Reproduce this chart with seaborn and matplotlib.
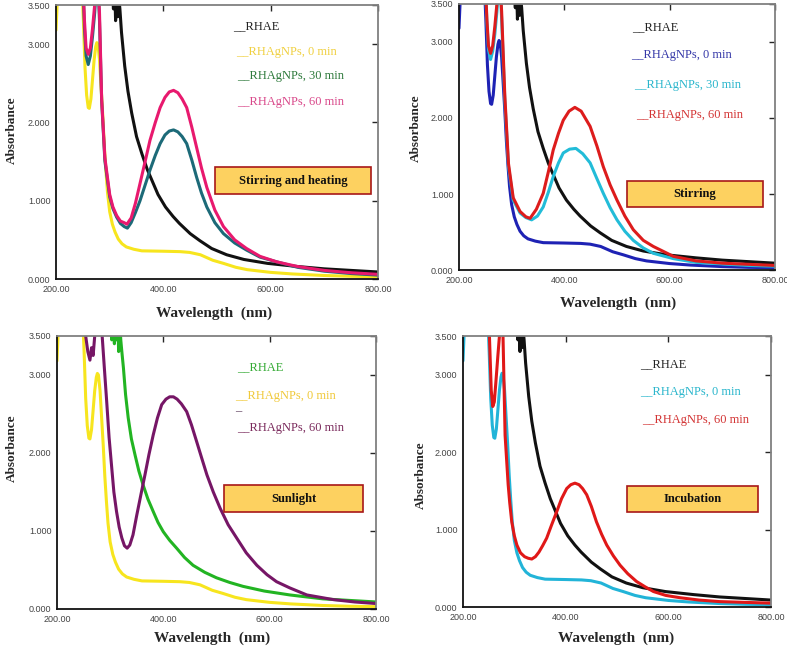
import matplotlib
matplotlib.use("Agg")
import matplotlib.pyplot as plt
from matplotlib.patches import Rectangle
import seaborn as sns

# ---- data (wavelength nm, absorbance) ----
# values above 3.5 run off the top of the plot in the original
wl_rhae = [304, 307, 309, 311, 313, 315, 317, 319, 322, 328, 334, 341, 350, 360, 370, 380, 390,
           404, 418, 430, 450, 468, 490, 518, 550, 594, 650, 700, 750, 800]
abs_rhae = [3.8, 3.45, 3.8, 3.3, 3.7, 3.35, 3.6, 3.45, 3.15, 2.72, 2.4, 2.12, 1.82, 1.6, 1.4, 1.24, 1.08,
            0.92, 0.8, 0.71, 0.58, 0.49, 0.39, 0.31, 0.25, 0.2, 0.16, 0.13, 0.11, 0.09]

wl_0min = [200, 202, 204, 248, 251, 254, 257, 260, 262, 265, 268, 271, 274, 276, 278, 281, 284, 287,
           290, 293, 296, 300, 305, 310, 316, 323, 331, 345, 360, 400, 431, 449, 469, 492, 512, 535,
           556, 600, 640, 700, 750, 800]
abs_0min = [3.18, 3.5, 3.8, 3.8, 3.3, 2.7, 2.35, 2.19, 2.18, 2.3, 2.55, 2.8, 2.97, 3.02, 3.0, 2.8, 2.45, 2.1,
            1.7, 1.38, 1.1, 0.86, 0.7, 0.6, 0.51, 0.45, 0.41, 0.38, 0.36, 0.355, 0.35, 0.34, 0.31, 0.24, 0.2, 0.15,
            0.12, 0.085, 0.065, 0.045, 0.035, 0.03]

# stirring and heating
wl_sh30 = [250, 253, 256, 260, 264, 268, 272, 275, 278, 281, 285, 291, 300, 306, 313, 320, 327, 333,
           340, 348, 356.5, 366, 375, 385, 394, 403, 411, 419, 427, 435, 443.5, 453, 462, 471, 481, 496,
           512, 533, 555, 580, 611, 650, 700, 750, 800]
abs_sh30 = [3.8, 3.2, 2.85, 2.74, 2.85, 3.1, 3.4, 3.7, 3.8, 3.3, 2.28, 1.51, 1.05, 0.9, 0.79, 0.71, 0.67, 0.65,
            0.72, 0.85, 1.0, 1.2, 1.39, 1.58, 1.73, 1.84, 1.89, 1.905, 1.88, 1.82, 1.73, 1.52, 1.30, 1.1, 0.92, 0.72,
            0.58, 0.46, 0.37, 0.28, 0.22, 0.15, 0.1, 0.07, 0.05]
wl_sh60 = [250, 253, 256, 260, 264, 268, 272, 275, 278, 281, 285, 291, 300, 306, 313, 320, 327, 332,
           340, 348, 356.5, 366, 375, 385, 394, 403, 411, 419, 427, 435, 443.5, 453, 462, 471, 481, 496,
           512, 533, 555, 580, 611, 650, 700, 750, 800]
abs_sh60 = [3.8, 3.3, 2.95, 2.87, 2.95, 3.2, 3.5, 3.8, 3.8, 3.4, 2.3, 1.55, 1.08, 0.92, 0.81, 0.74, 0.72, 0.70,
            0.78, 0.97, 1.22, 1.5, 1.77, 2.0, 2.19, 2.32, 2.39, 2.41, 2.38, 2.3, 2.19, 1.94, 1.68, 1.42, 1.17, 0.88,
            0.67, 0.5, 0.39, 0.29, 0.22, 0.16, 0.11, 0.08, 0.06]

# stirring
wl_st30 = [250, 253, 256, 260, 264, 268, 272, 275, 278, 281, 287, 294, 303, 316, 327, 338, 349, 360,
           370, 379, 389, 398, 410, 422, 435, 449, 462, 474, 487, 500, 515, 531, 550, 569, 607, 650, 700,
           750, 800]
abs_st30 = [3.8, 3.25, 2.9, 2.77, 2.88, 3.1, 3.4, 3.7, 3.8, 3.3, 2.24, 1.36, 0.92, 0.75, 0.69, 0.66, 0.71, 0.83,
            1.03, 1.23, 1.41, 1.54, 1.59, 1.6, 1.53, 1.41, 1.2, 1.01, 0.82, 0.66, 0.51, 0.39, 0.29, 0.22, 0.15, 0.1, 0.08,
            0.06, 0.05]
wl_st60 = [250, 253, 256, 260, 264, 268, 272, 275, 278, 281, 287, 294, 303, 316, 327, 335, 347, 360,
           370, 379, 389, 398, 409, 420, 432, 449, 462, 474, 487, 500, 515, 531, 550, 569, 607, 650, 700,
           750, 800]
abs_st60 = [3.8, 3.3, 2.95, 2.85, 2.95, 3.2, 3.5, 3.8, 3.8, 3.4, 2.3, 1.4, 0.95, 0.77, 0.70, 0.68, 0.8, 1.01,
            1.3, 1.58, 1.8, 1.97, 2.09, 2.14, 2.09, 1.89, 1.63, 1.36, 1.12, 0.92, 0.71, 0.53, 0.39, 0.31, 0.18, 0.12, 0.09,
            0.075, 0.06]

# sunlight
wl_sun_rhae = [300, 303, 305, 308, 310, 312, 314, 316, 318, 320, 322, 325, 329, 334, 340, 347, 354,
               362, 371, 381, 390, 400, 412, 425, 440, 456, 478, 500, 525, 550, 590, 638, 700, 750, 800]
abs_sun_rhae = [3.8, 3.45, 3.8, 3.4, 3.8, 3.45, 3.8, 3.3, 3.7, 3.45, 3.3, 3.09, 2.75, 2.45, 2.18, 1.97, 1.77,
                1.59, 1.41, 1.25, 1.11, 0.99, 0.88, 0.78, 0.66, 0.56, 0.47, 0.40, 0.34, 0.29, 0.23, 0.18, 0.13, 0.11,
                0.09]
wl_sun60 = [250, 254, 258, 262, 265, 268, 271, 274, 280, 284, 289, 293.5, 298, 303, 307, 312, 317, 322,
            327, 332, 337, 343, 350, 358, 365.5, 373, 381, 389, 397, 405, 412, 419, 426, 434, 444, 453, 463,
            472, 482, 494, 507, 522, 538, 556, 576, 595, 613, 638, 670, 720, 760, 800]
abs_sun60 = [3.8, 3.5, 3.3, 3.19, 3.35, 3.25, 3.5, 3.8, 3.8, 3.6, 3.1, 2.66, 2.2, 1.81, 1.5, 1.25, 1.05, 0.91,
             0.81, 0.78, 0.82, 0.95, 1.2, 1.47, 1.72, 1.98, 2.23, 2.45, 2.62, 2.69, 2.72, 2.72, 2.69, 2.63, 2.53, 2.36,
             2.14, 1.94, 1.72, 1.5, 1.29, 1.08, 0.91, 0.72, 0.56, 0.44, 0.35, 0.27, 0.18, 0.12, 0.09, 0.07]

# incubation
wl_inc60 = [250, 253, 255, 258, 261, 264, 268, 271, 274, 277, 280, 282, 285, 288, 291, 295, 300, 305,
            312, 320, 327, 334, 341, 348, 355, 363, 372, 382.5, 392, 402, 410, 418, 426, 433, 441, 450,
            460, 470, 480, 493, 506, 521, 538, 555, 571, 595, 623, 660, 700, 750, 800]
abs_inc60 = [3.8, 3.2, 2.8, 2.59, 2.65, 2.9, 3.25, 3.5, 3.8, 3.8, 2.85, 2.22, 1.9, 1.58, 1.35, 1.1, 0.92, 0.8,
             0.7, 0.65, 0.63, 0.62, 0.65, 0.71, 0.79, 0.89, 1.05, 1.23, 1.4, 1.53, 1.58, 1.6, 1.58, 1.53, 1.45, 1.3,
             1.1, 0.94, 0.8, 0.66, 0.54, 0.43, 0.33, 0.26, 0.2, 0.15, 0.12, 0.09, 0.07, 0.06, 0.05]

x_ticks = [200, 400, 600, 800]
y_ticks = [0.0, 1.0, 2.0, 3.0, 3.5]

sns.set_style("white")
plt.rcParams["font.family"] = ["Liberation Serif", "DejaVu Serif"]

fig = plt.figure(figsize=(7.87, 6.53), dpi=100)

# axes rectangles (fractions of the figure)
rects = [
    [0.0712, 0.5727, 0.4091, 0.4196],
    [0.5832, 0.5865, 0.4015, 0.4074],
    [0.0724, 0.0674, 0.4053, 0.4181],
    [0.5883, 0.0704, 0.3914, 0.4150],
]

panels = [
    {
        "series": [(wl_rhae, abs_rhae, "#111111"),
                   (wl_0min, abs_0min, "#F7E51E"),
                   (wl_sh30, abs_sh30, "#1C6A78"),
                   (wl_sh60, abs_sh60, "#E8196E")],
        "labels": [("__RHAE", "#222222", 0.550, 0.923),
                   ("__RHAgNPs, 0 min", "#F0D040", 0.559, 0.828),
                   ("__RHAgNPs, 30 min", "#2E7A3C", 0.562, 0.741),
                   ("__RHAgNPs, 60 min", "#D9488A", 0.563, 0.646)],
        "box": ("Stirring and heating", 0.494, 0.310, 0.484, 0.099),
        "ylab": (-0.118, 0.544), "xlab": (0.49, -0.102),
    },
    {
        "series": [(wl_rhae, abs_rhae, "#111111"),
                   (wl_0min, abs_0min, "#1E22B4"),
                   (wl_st30, abs_st30, "#22BCD8"),
                   (wl_st60, abs_st60, "#DD1C1C")],
        "labels": [("__RHAE", "#222222", 0.547, 0.913),
                   ("__RHAgNPs, 0 min", "#3538A8", 0.545, 0.808),
                   ("__RHAgNPs, 30 min", "#2AB6CC", 0.554, 0.695),
                   ("__RHAgNPs, 60 min", "#D33434", 0.560, 0.583)],
        "box": ("Stirring", 0.532, 0.237, 0.430, 0.098),
        "ylab": (-0.117, 0.534), "xlab": (0.503, -0.098),
    },
    {
        "series": [(wl_sun_rhae, abs_sun_rhae, "#22B422"),
                   (wl_0min, abs_0min, "#F7E51E"),
                   (wl_sun60, abs_sun60, "#761666")],
        "labels": [("__RHAE", "#33AA33", 0.564, 0.886),
                   ("__RHAgNPs, 0 min", "#F0C93A", 0.558, 0.780),
                   ("–", "#5A3A5A", 0.558, 0.725),
                   ("__RHAgNPs, 60 min", "#7A2A5C", 0.564, 0.663)],
        "box": ("Sunlight", 0.524, 0.355, 0.435, 0.099),
        "ylab": (-0.122, 0.59), "xlab": (0.486, -0.084),
    },
    {
        "series": [(wl_rhae, abs_rhae, "#111111"),
                   (wl_0min, abs_0min, "#22B4D8"),
                   (wl_inc60, abs_inc60, "#E01818")],
        "labels": [("__RHAE", "#222222", 0.575, 0.897),
                   ("__RHAgNPs, 0 min", "#2AB6CC", 0.575, 0.793),
                   ("__RHAgNPs, 60 min", "#D33434", 0.581, 0.690)],
        "box": ("Incubation", 0.532, 0.350, 0.426, 0.096),
        "ylab": (-0.117, 0.487), "xlab": (0.497, -0.092),
    },
]

for rect, p in zip(rects, panels):
    ax = fig.add_axes(rect)
    for wl, ab, col in p["series"]:
        sns.lineplot(x=wl, y=ab, ax=ax, color=col, lw=2.2, estimator=None, sort=False)

    ax.set_xlim(200, 800)
    ax.set_ylim(0, 3.5)
    ax.set_xticks(x_ticks)
    ax.set_xticklabels([f"{v:.2f}" for v in x_ticks])
    ax.set_yticks(y_ticks)
    ax.set_yticklabels([f"{v:.3f}" for v in y_ticks])
    ax.tick_params(direction="in", length=4, width=1, top=True, right=True,
                   labelsize=6.5, labelcolor="#444444", pad=4)
    for lab in ax.get_xticklabels() + ax.get_yticklabels():
        lab.set_family(["Liberation Sans", "DejaVu Sans"])

    for side in ["left", "bottom"]:
        ax.spines[side].set_color("#111111")
        ax.spines[side].set_linewidth(1.3)
    for side in ["top", "right"]:
        ax.spines[side].set_color("#808080")
        ax.spines[side].set_linewidth(1.3)

    ax.set_xlabel("Wavelength  (nm)", fontsize=11, fontweight="bold")
    ax.xaxis.set_label_coords(*p["xlab"])
    ax.set_ylabel("Absorbance", fontsize=9.5, fontweight="bold")
    ax.yaxis.set_label_coords(*p["ylab"])

    for txt, col, tx, ty in p["labels"]:
        ax.text(tx, ty, txt, color=col, fontsize=9, transform=ax.transAxes, va="center", ha="left")

    name, bx, by, bw, bh = p["box"]
    ax.add_patch(Rectangle((bx, by), bw, bh, transform=ax.transAxes,
                           facecolor="#FDD160", edgecolor="#A81818", lw=1.2, zorder=5))
    ax.text(bx + bw / 2, by + bh / 2, name, transform=ax.transAxes, ha="center", va="center",
            fontsize=9, fontweight="bold", color="#111111", zorder=6)

fig.savefig("out.png", dpi=100, facecolor="white")
